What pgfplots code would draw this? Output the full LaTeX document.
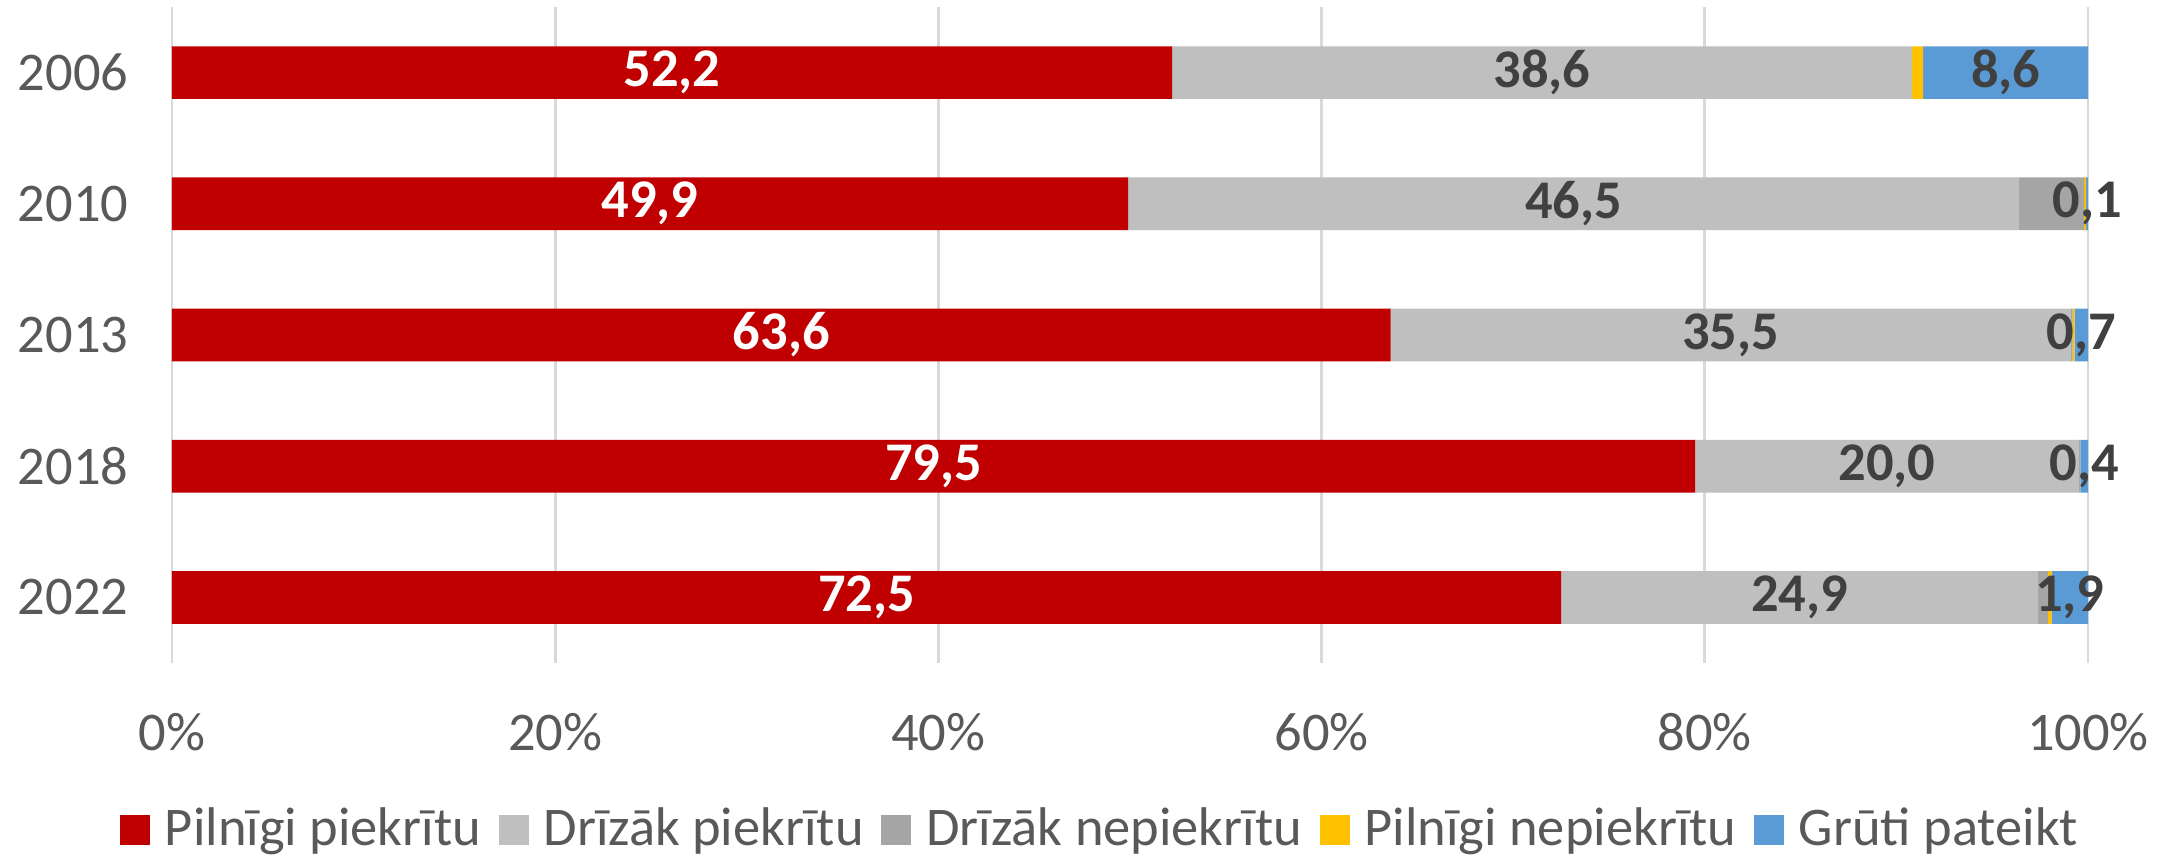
\documentclass[border=0pt]{standalone}
\usepackage{fontspec}
\setmainfont{Carlito}
\usepackage{pgfplots}
\pgfplotsset{compat=1.18}
\definecolor{cred}{HTML}{C00000}
\definecolor{clgray}{HTML}{BFBFBF}
\definecolor{cdgray}{HTML}{A5A5A5}
\definecolor{cyellow}{HTML}{FFC000}
\definecolor{cblue}{HTML}{5B9BD5}
\definecolor{labeldark}{HTML}{404040}
\definecolor{textgray}{HTML}{595959}
\definecolor{gridgray}{HTML}{D9D9D9}
\newcommand{\chartfont}{\fontsize{15.5}{18.5}\selectfont}
\begin{document}
\begin{tikzpicture}
  \path[use as bounding box] (-1.72,-1.94) rectangle (20.02,6.63);
  \begin{axis}[
    at={(0,0)}, anchor=south west,
    scale only axis,
    width=19.16cm, height=6.56cm,
    xbar stacked,
    bar width=0.527cm,
    xmin=0, xmax=100,
    ymin=-0.5, ymax=4.5,
    y dir=reverse,
    ytick={0,1,2,3,4},
    yticklabels={2006,2010,2013,2018,2022},
    xtick={0,20,40,60,80,100},
    xticklabel={\pgfmathprintnumber{\tick}\%},
    /pgf/number format/assume math mode=true,
    xmajorgrids,
    grid style={gridgray, line width=0.8pt},
    axis line style={draw=none},
    major tick length=0pt,
    tick label style={font=\chartfont, text=textgray},
    yticklabel style={inner sep=0pt, xshift=-0.43cm},
    xticklabel style={inner sep=0pt, yshift=-0.5cm},
    every axis plot/.append style={draw=none},
    nodes near coords style={font=\chartfont\bfseries},
    legend style={at={(0.4843,-0.254)}, anchor=center, draw=none,
      font=\chartfont, text=textgray, fill=none,
      legend columns=-1, inner sep=0pt,
      nodes={inner xsep=0.5pt, inner ysep=0pt},
      /tikz/every odd column/.append style={column sep=0.13cm},
      /tikz/every even column/.append style={column sep=0.16cm}},
    legend image code/.code={\fill[#1] (0cm,-0.15cm) rectangle (0.3cm,0.15cm);},
  ]
    % Pilnīgi piekrītu
    \addplot[fill=cred, draw=none,
      nodes near coords={\pgfmathprintnumber[fixed,fixed zerofill,precision=1,use comma]{\pgfplotspointmeta}},
      point meta=rawx,
      every node near coord/.append style={anchor=center, text=white}]
      coordinates {(52.2,0) (49.9,1) (63.6,2) (79.5,3) (72.5,4)};
    % Drīzāk piekrītu
    \addplot[fill=clgray, draw=none,
      nodes near coords={\pgfmathprintnumber[fixed,fixed zerofill,precision=1,use comma]{\pgfplotspointmeta}},
      point meta=rawx,
      every node near coord/.append style={anchor=center, text=labeldark}]
      coordinates {(38.6,0) (46.5,1) (35.5,2) (20.0,3) (24.9,4)};
    % Drīzāk nepiekrītu
    \addplot[fill=cdgray, draw=none]
      coordinates {(0,0) (3.4,1) (0.1,2) (0.1,3) (0.5,4)};
    % Pilnīgi nepiekrītu
    \addplot[fill=cyellow, draw=none]
      coordinates {(0.6,0) (0.1,1) (0.1,2) (0,3) (0.2,4)};
    % Grūti pateikt
    \addplot[fill=cblue, draw=none,
      nodes near coords={\pgfmathprintnumber[fixed,fixed zerofill,precision=1,use comma]{\pgfplotspointmeta}},
      point meta=rawx,
      every node near coord/.append style={anchor=center, text=labeldark}]
      coordinates {(8.6,0) (0.1,1) (0.7,2) (0.4,3) (1.9,4)};
    \legend{Pilnīgi piekrītu, Drīzāk piekrītu, Drīzāk nepiekrītu, Pilnīgi nepiekrītu, Grūti pateikt}
  \end{axis}
\end{tikzpicture}
\end{document}
